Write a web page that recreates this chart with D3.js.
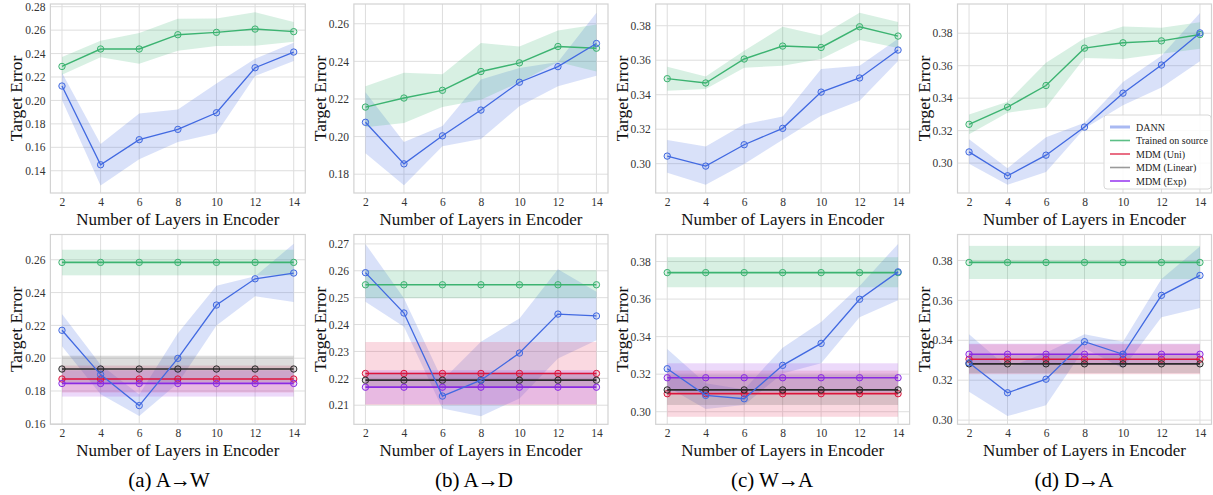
<!DOCTYPE html>
<html>
<head>
<meta charset="utf-8">
<script src="https://cdn.jsdelivr.net/npm/d3@7"></script>
<style>
  html, body { margin: 0; padding: 0; background: #fff; }
  svg { display: block; }
  text { font-family: "Liberation Serif", "DejaVu Serif", serif; }
</style>
</head>
<body>
<svg id="chart" width="1213" height="495"></svg>
<script>
// ---------- data ----------
const layers = [2, 4, 6, 8, 10, 12, 14];
const xTicks = [2, 4, 6, 8, 10, 12, 14];
const seriesNames = ["DANN", "Trained on source", "MDM (Uni)", "MDM (Linear)", "MDM (Exp)"];
const captions = ["(a) A\u2192W", "(b) A\u2192D", "(c) W\u2192A", "(d) D\u2192A"];

// top row: both curves vary with depth
const topAW_dann   = [0.2123, 0.1451, 0.1665, 0.1753, 0.1895, 0.2279, 0.2413];
const topAW_dannLo = [0.2003, 0.1275, 0.1499, 0.1646, 0.1720, 0.2208, 0.2336];
const topAW_dannHi = [0.2237, 0.1628, 0.1888, 0.1922, 0.2145, 0.2355, 0.2493];
const topAW_src    = [0.2290, 0.2439, 0.2439, 0.2561, 0.2581, 0.2609, 0.2587];
const topAW_srcLo  = [0.2220, 0.2368, 0.2313, 0.2425, 0.2464, 0.2467, 0.2501];
const topAW_srcHi  = [0.2370, 0.2510, 0.2575, 0.2698, 0.2700, 0.2752, 0.2669];

const topAD_dann   = [0.2076, 0.1855, 0.2004, 0.2141, 0.2289, 0.2372, 0.2495];
const topAD_dannLo = [0.1912, 0.1741, 0.1948, 0.1987, 0.2161, 0.2268, 0.2324];
const topAD_dannHi = [0.2236, 0.1971, 0.2056, 0.2303, 0.2365, 0.2397, 0.2659];
const topAD_src    = [0.2157, 0.2205, 0.2246, 0.2346, 0.2392, 0.2479, 0.2470];
const topAD_srcLo  = [0.2049, 0.2072, 0.2157, 0.2196, 0.2289, 0.2397, 0.2346];
const topAD_srcHi  = [0.2268, 0.2340, 0.2332, 0.2497, 0.2479, 0.2564, 0.2596];

const topWA_dann   = [0.3044, 0.2986, 0.3110, 0.3205, 0.3415, 0.3497, 0.3659];
const topWA_dannLo = [0.2948, 0.2878, 0.2998, 0.3139, 0.3278, 0.3365, 0.3595];
const topWA_dannHi = [0.3137, 0.3099, 0.3228, 0.3274, 0.3549, 0.3568, 0.3725];
const topWA_src    = [0.3493, 0.3468, 0.3607, 0.3682, 0.3674, 0.3794, 0.3740];
const topWA_srcLo  = [0.3423, 0.3433, 0.3557, 0.3568, 0.3607, 0.3717, 0.3671];
const topWA_srcHi  = [0.3562, 0.3506, 0.3655, 0.3794, 0.3744, 0.3875, 0.3821];

const topDA_dann   = [0.3069, 0.2922, 0.3049, 0.3222, 0.3431, 0.3604, 0.3802];
const topDA_dannLo = [0.2996, 0.2867, 0.2945, 0.3214, 0.3357, 0.3465, 0.3627];
const topDA_dannHi = [0.3147, 0.2969, 0.3159, 0.3249, 0.3500, 0.3661, 0.3924];
const topDA_src    = [0.3239, 0.3345, 0.3478, 0.3708, 0.3741, 0.3753, 0.3792];
const topDA_srcLo  = [0.3178, 0.3310, 0.3343, 0.3647, 0.3641, 0.3673, 0.3704];
const topDA_srcHi  = [0.3300, 0.3378, 0.3618, 0.3769, 0.3841, 0.3833, 0.3867];

// bottom row: DANN varies, baselines are flat  [source, uni, linear, exp]
const botAW_dann   = [0.2170, 0.1900, 0.1711, 0.1999, 0.2324, 0.2484, 0.2519];
const botAW_dannLo = [0.2073, 0.1780, 0.1647, 0.1848, 0.2199, 0.2377, 0.2342];
const botAW_dannHi = [0.2269, 0.1960, 0.1779, 0.2152, 0.2442, 0.2499, 0.2697];
const botAW_flat   = [0.2584, 0.1873, 0.1934, 0.1846];
const botAW_flatLo = [0.2505, 0.1791, 0.1852, 0.1766];
const botAW_flatHi = [0.2661, 0.1955, 0.2015, 0.1926];

const botAD_dann   = [0.2593, 0.2443, 0.2134, 0.2193, 0.2294, 0.2439, 0.2432];
const botAD_dannLo = [0.2485, 0.2392, 0.2088, 0.2059, 0.2125, 0.2274, 0.2342];
const botAD_dannHi = [0.2700, 0.2498, 0.2193, 0.2336, 0.2423, 0.2606, 0.2522];
const botAD_flat   = [0.2548, 0.2218, 0.2193, 0.2167];
const botAD_flatLo = [0.2498, 0.2101, 0.2165, 0.2104];
const botAD_flatHi = [0.2602, 0.2335, 0.2221, 0.2230];

const botWA_dann   = [0.3229, 0.3087, 0.3069, 0.3247, 0.3364, 0.3599, 0.3745];
const botWA_dannLo = [0.3133, 0.3014, 0.3036, 0.3204, 0.3258, 0.3503, 0.3594];
const botWA_dannHi = [0.3334, 0.3151, 0.3119, 0.3341, 0.3478, 0.3670, 0.3894];
const botWA_flat   = [0.3741, 0.3096, 0.3116, 0.3181];
const botWA_flatLo = [0.3663, 0.2973, 0.3036, 0.3105];
const botWA_flatHi = [0.3823, 0.3219, 0.3196, 0.3258];

const botDA_dann   = [0.3287, 0.3137, 0.3205, 0.3393, 0.3330, 0.3625, 0.3725];
const botDA_dannLo = [0.3142, 0.3020, 0.3075, 0.3360, 0.3258, 0.3515, 0.3562];
const botDA_dannHi = [0.3430, 0.3263, 0.3337, 0.3430, 0.3392, 0.3707, 0.3870];
const botDA_flat   = [0.3790, 0.3305, 0.3282, 0.3330];
const botDA_flatLo = [0.3707, 0.3230, 0.3235, 0.3277];
const botDA_flatHi = [0.3873, 0.3380, 0.3330, 0.3383];

// y tick labels per panel
const yTicksTopAW = [0.14, 0.16, 0.18, 0.20, 0.22, 0.24, 0.26, 0.28];
const yTicksTopAD = [0.18, 0.20, 0.22, 0.24, 0.26];
const yTicksTopWA = [0.30, 0.32, 0.34, 0.36, 0.38];
const yTicksTopDA = [0.30, 0.32, 0.34, 0.36, 0.38];
const yTicksBotAW = [0.16, 0.18, 0.20, 0.22, 0.24, 0.26];
const yTicksBotAD = [0.21, 0.22, 0.23, 0.24, 0.25, 0.26, 0.27];
const yTicksBotWA = [0.30, 0.32, 0.34, 0.36, 0.38];
const yTicksBotDA = [0.30, 0.32, 0.34, 0.36, 0.38];

// ---------- styling / layout ----------
const colors = {
  dann: "#4169e1", src: "#3cb371", uni: "#dc143c", lin: "#2b2b2b", exp: "#8a2be2"
};
const bandColors = {
  dann: "#4169e1", src: "#3cb371", uni: "#e8406a", lin: "#555555", exp: "#a040e8"
};
const flatKeys = ["src", "uni", "lin", "exp"];

const colBox = [
  { left: 50.4, right: 305.3 },
  { left: 353.9, right: 608.0 },
  { left: 655.7, right: 909.6 },
  { left: 957.5, right: 1211.5 }
];
const rowBox = [{ top: 4, bottom: 193 }, { top: 234.5, bottom: 424.3 }];
const yDomains = [
  [[0.121, 0.2823], [0.170, 0.2705], [0.283, 0.3926], [0.2816, 0.398]],
  [[0.1597, 0.2754], [0.2029, 0.2735], [0.2933, 0.3944], [0.2979, 0.393]]
];
const captionX = [169, 474, 772, 1074];

const svg = d3.select("#chart");

const topPanels = [
  { dann: topAW_dann, lo: topAW_dannLo, hi: topAW_dannHi, src: topAW_src, srcLo: topAW_srcLo, srcHi: topAW_srcHi, yt: yTicksTopAW },
  { dann: topAD_dann, lo: topAD_dannLo, hi: topAD_dannHi, src: topAD_src, srcLo: topAD_srcLo, srcHi: topAD_srcHi, yt: yTicksTopAD },
  { dann: topWA_dann, lo: topWA_dannLo, hi: topWA_dannHi, src: topWA_src, srcLo: topWA_srcLo, srcHi: topWA_srcHi, yt: yTicksTopWA },
  { dann: topDA_dann, lo: topDA_dannLo, hi: topDA_dannHi, src: topDA_src, srcLo: topDA_srcLo, srcHi: topDA_srcHi, yt: yTicksTopDA }
];
const botPanels = [
  { dann: botAW_dann, lo: botAW_dannLo, hi: botAW_dannHi, flat: botAW_flat, flatLo: botAW_flatLo, flatHi: botAW_flatHi, yt: yTicksBotAW },
  { dann: botAD_dann, lo: botAD_dannLo, hi: botAD_dannHi, flat: botAD_flat, flatLo: botAD_flatLo, flatHi: botAD_flatHi, yt: yTicksBotAD },
  { dann: botWA_dann, lo: botWA_dannLo, hi: botWA_dannHi, flat: botWA_flat, flatLo: botWA_flatLo, flatHi: botWA_flatHi, yt: yTicksBotWA },
  { dann: botDA_dann, lo: botDA_dannLo, hi: botDA_dannHi, flat: botDA_flat, flatLo: botDA_flatLo, flatHi: botDA_flatHi, yt: yTicksBotDA }
];

function frame(row, col, yt) {
  const cb = colBox[col], rb = rowBox[row];
  const x = d3.scaleLinear().domain([1.4, 14.6]).range([cb.left, cb.right]);
  const y = d3.scaleLinear().domain(yDomains[row][col]).range([rb.bottom, rb.top]);
  const g = svg.append("g");
  // grid
  g.append("g").selectAll("line").data(xTicks).join("line")
    .attr("x1", d => x(d)).attr("x2", d => x(d))
    .attr("y1", rb.top).attr("y2", rb.bottom)
    .attr("stroke", "#dedede").attr("stroke-width", 1);
  g.append("g").selectAll("line").data(yt).join("line")
    .attr("x1", cb.left).attr("x2", cb.right)
    .attr("y1", d => y(d)).attr("y2", d => y(d))
    .attr("stroke", "#dedede").attr("stroke-width", 1);
  // axes (labels only, no tick marks)
  const xa = g.append("g").attr("transform", `translate(0,${rb.bottom})`)
    .call(d3.axisBottom(x).tickValues(xTicks).tickSize(0).tickPadding(5).tickFormat(d3.format("d")));
  const ya = g.append("g").attr("transform", `translate(${cb.left},0)`)
    .call(d3.axisLeft(y).tickValues(yt).tickSize(0).tickPadding(5).tickFormat(d3.format(".2f")));
  [xa, ya].forEach(a => {
    a.attr("font-family", null);
    a.select(".domain").remove();
    a.selectAll("text").attr("font-size", 11.5).attr("fill", "#333");
  });
  // spines
  g.append("rect").attr("x", cb.left).attr("y", rb.top)
    .attr("width", cb.right - cb.left).attr("height", rb.bottom - rb.top)
    .attr("fill", "none").attr("stroke", "#d2d2d2").attr("stroke-width", 1.2);
  // labels
  svg.append("text").attr("x", (cb.left + cb.right) / 2).attr("y", rb.bottom + 32)
    .attr("text-anchor", "middle").attr("font-size", 17).attr("fill", "#111")
    .text("Number of Layers in Encoder");
  svg.append("text")
    .attr("transform", `translate(${cb.left - 28},${(rb.top + rb.bottom) / 2}) rotate(-90)`)
    .attr("text-anchor", "middle").attr("font-size", 17.5).attr("fill", "#111")
    .text("Target Error");
  return { x, y, g: svg.append("g") };
}

function band(g, x, y, lo, hi, color, op) {
  const area = d3.area().x((d, i) => x(layers[i])).y0((d, i) => y(lo[i])).y1((d, i) => y(hi[i]));
  g.append("path").datum(lo).attr("d", area).attr("fill", color).attr("fill-opacity", op).attr("stroke", "none");
}
function curve(g, x, y, vals, color, w) {
  const line = d3.line().x((d, i) => x(layers[i])).y(d => y(d));
  g.append("path").datum(vals).attr("d", line).attr("fill", "none").attr("stroke", color).attr("stroke-width", w);
  g.append("g").selectAll("circle").data(vals).join("circle")
    .attr("cx", (d, i) => x(layers[i])).attr("cy", d => y(d)).attr("r", 3.2)
    .attr("fill", color).attr("fill-opacity", 0.15).attr("stroke", color).attr("stroke-width", 1);
}
function flatBand(g, x, y, v, lo, hi, color, op) {
  g.append("rect").attr("x", x(layers[0])).attr("width", x(layers[layers.length - 1]) - x(layers[0]))
    .attr("y", y(hi)).attr("height", y(lo) - y(hi)).attr("fill", color).attr("fill-opacity", op);
}
function flatLine(g, x, y, v, color, w) {
  g.append("line").attr("x1", x(layers[0])).attr("x2", x(layers[layers.length - 1]))
    .attr("y1", y(v)).attr("y2", y(v)).attr("stroke", color).attr("stroke-width", w);
  g.append("g").selectAll("circle").data(layers).join("circle")
    .attr("cx", d => x(d)).attr("cy", y(v)).attr("r", 3.2)
    .attr("fill", color).attr("fill-opacity", 0.15).attr("stroke", color).attr("stroke-width", 1);
}

// top row
topPanels.forEach((p, c) => {
  const { x, y, g } = frame(0, c, p.yt);
  band(g, x, y, p.lo, p.hi, bandColors.dann, 0.2);
  band(g, x, y, p.srcLo, p.srcHi, bandColors.src, 0.2);
  curve(g, x, y, p.src, colors.src, 1.4);
  curve(g, x, y, p.dann, colors.dann, 1.3);
});

// bottom row
botPanels.forEach((p, c) => {
  const { x, y, g } = frame(1, c, p.yt);
  band(g, x, y, p.lo, p.hi, bandColors.dann, 0.2);
  flatKeys.forEach((k, i) => flatBand(g, x, y, p.flat[i], p.flatLo[i], p.flatHi[i], bandColors[k], 0.2));
  flatKeys.forEach((k, i) => flatLine(g, x, y, p.flat[i], colors[k], 1.7));
  curve(g, x, y, p.dann, colors.dann, 1.3);
});

// captions (arrow tightened a little)
captions.forEach((t, i) => {
  const parts = t.split("\u2192");
  const txt = svg.append("text").attr("x", captionX[i]).attr("y", 487).attr("text-anchor", "middle")
    .attr("font-size", 21).attr("fill", "#000");
  txt.append("tspan").text(parts[0]);
  txt.append("tspan").attr("dx", -1).text("\u2192");
  txt.append("tspan").attr("dx", -1).text(parts[1]);
});

// legend (top right panel)
const legendColors = ["#a9b9f2", "#5cbf86", "#e44a66", "#9a9a9a", "#9b3ff0"];
const legendWidths = [3, 1.6, 1.6, 1.6, 1.6];
const lg = svg.append("g").attr("transform", "translate(1104,115)");
lg.append("rect").attr("x", 0).attr("y", 0).attr("width", 107).attr("height", 74)
  .attr("rx", 3).attr("fill", "#fff").attr("fill-opacity", 0.85).attr("stroke", "#d8d8d8").attr("stroke-width", 1);
seriesNames.forEach((n, i) => {
  const yy = 12 + i * 13.5;
  lg.append("line").attr("x1", 6).attr("x2", 26).attr("y1", yy).attr("y2", yy)
    .attr("stroke", legendColors[i]).attr("stroke-width", legendWidths[i]);
  lg.append("text").attr("x", 32).attr("y", yy + 3.5).attr("font-size", 10).attr("fill", "#222").text(n);
});
</script>
</body>
</html>
